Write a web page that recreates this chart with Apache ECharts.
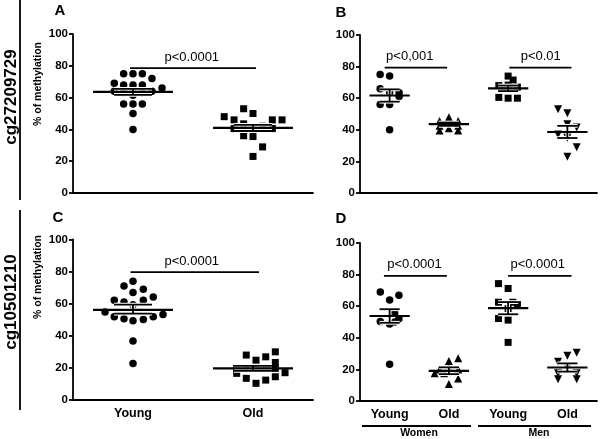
<!DOCTYPE html>
<html><head><meta charset="utf-8">
<script src="https://cdn.jsdelivr.net/npm/echarts@6/dist/echarts.min.js"></script>
<style>html,body{margin:0;padding:0;background:#fff}#c{width:600px;height:439px}</style>
</head><body><div id="c"></div>
<script>
// ---------- data (offset from category centre, % methylation) ----------
const groupsAC = ['Young', 'Old'];
const groupsBD = ['Young', 'Old', 'Young', 'Old'];
const yTicks = [0, 20, 40, 60, 80, 100];

// Panel A (cg27209729, all)
const aYoungOff = [-0.078, 0, 0.078, 0.158, -0.156, -0.078, 0, 0.078, 0.242, -0.156, 0.158, -0.078, 0, 0.078, 0, -0.078, 0, 0.078, 0, 0];
const aYoungVal = [75, 75, 75, 72, 69, 68, 68, 68, 66, 64, 64, 63, 63, 63, 61.5, 56, 56, 56, 50, 40];
const aOldOff = [-0.078, 0, -0.24, -0.158, 0.161, 0.242, -0.078, -0.158, -0.078, 0, 0.08, 0.161, 0.08, -0.078, 0, 0.08, 0];
const aOldVal = [53, 50, 48, 46, 46, 46, 43.5, 40.5, 40.5, 41, 40.5, 40.5, 42, 36, 35.5, 29, 23];
const aMean = [63.6, 41.0];
const aSemLo = [61.7, 39.0];
const aSemHi = [65.5, 42.8];

// Panel B (cg27209729, by sex)
const bWomenYoungOff = [-0.16, 0, -0.16, 0, 0.16, 0.16, -0.16, 0, 0];
const bWomenYoungVal = [75, 74, 66, 64, 63.5, 61, 56, 56, 40];
const bWomenOldOff = [0, -0.157, 0.157, 0, -0.157, 0.157, 0, -0.157, 0.157];
const bWomenOldVal = [48, 45.5, 45.5, 44.5, 42.5, 42.5, 41, 39.5, 39.5];
const bMenYoungOff = [0, 0.084, -0.157, 0, 0.157, -0.08, -0.157, 0, 0.157];
const bMenYoungVal = [74, 71.5, 68, 68.3, 67, 66, 60.5, 60, 60];
const bMenOldOff = [-0.157, 0, 0, 0.157, -0.157, 0, 0.157, 0];
const bMenOldVal = [53, 50.5, 43.5, 41.5, 37, 35, 29, 23];
const bMean = [61.7, 43.6, 66.2, 38.6];
const bSemLo = [57.8, 42.5, 64.5, 34.8];
const bSemHi = [65.6, 44.6, 68.0, 42.5];

// Panel C (cg10501210, all)
const cYoungOff = [0, -0.075, 0.086, 0, 0.169, -0.156, -0.075, 0.086, 0, -0.233, -0.156, -0.075, 0, 0.086, 0.169, 0.25, 0, 0];
const cYoungVal = [74, 71, 69, 67, 64.2, 62.1, 61.1, 62.1, 59.4, 54.8, 51.8, 50.7, 49.3, 50.1, 51.8, 53.2, 36.8, 22.8];
const cOldOff = [-0.056, 0.025, 0.106, 0.186, 0.186, -0.136, -0.056, 0.025, 0.106, 0.186, -0.136, 0.267, -0.056, 0.106, 0.186, 0.025];
const cOldVal = [28, 24.8, 26.9, 30, 23.4, 19.7, 19.7, 19.7, 19.7, 19.7, 16.6, 17, 13.5, 12.4, 14.5, 10.4];
const cMean = [56.2, 19.7];
const cSemLo = [53.8, 18.2];
const cSemHi = [59.4, 21.2];

// Panel D (cg10501210, by sex)
const dWomenYoungOff = [-0.157, 0.157, 0, 0.084, -0.157, 0.157, 0, 0.084, 0];
const dWomenYoungVal = [69, 67, 64, 55.5, 50.3, 52, 48.8, 50, 23.2];
const dWomenOldOff = [0.157, 0, -0.157, 0, 0.157, -0.24, -0.08, 0.157, 0];
const dWomenOldVal = [27, 25.3, 20, 20.5, 20, 17.5, 17.5, 14.3, 10.7];
const dMenYoungOff = [-0.163, 0, -0.163, 0.08, 0.157, 0, -0.163, 0, 0];
const dMenYoungVal = [74.3, 71.2, 62.5, 62.5, 61, 58.5, 52.2, 51.2, 37.1];
const dMenOldOff = [0.157, 0, -0.157, 0, -0.157, 0.157, -0.157, 0.157];
const dMenOldVal = [30.5, 28.6, 24.8, 21.5, 17.5, 17.5, 13.7, 13.7];
const dMean = [53.8, 19.1, 58.8, 21.2];
const dSemLo = [49.5, 17.0, 54.9, 18.6];
const dSemHi = [58.1, 21.3, 62.6, 23.8];

// significance brackets: [from, to, height, text position]
const aBracket = [[0.975, 2.025, 78.5, 1.49]];
const bBracket = [[0.916, 1.97, 79.3, 1.34], [3.02, 4.07, 79.3, 3.55]];
const cBracket = [[0.98, 2.05, 79.7, 1.49]];
const dBracket = [[0.904, 1.966, 79.2, 1.42], [3.0, 4.07, 79.2, 3.5]];
const aPText = ['p<0.0001'];
const bPText = ['p<0,001', 'p<0.01'];
const cPText = ['p<0.0001'];
const dPText = ['p<0.0001', 'p<0.0001'];

const rowLabels = ['cg27209729', 'cg10501210'];
const yTitle = '% of methylation';
const panelLetters = ['A', 'B', 'C', 'D'];
const sexLabels = ['Women', 'Men'];

// ---------- chart ----------
const FF = '"Liberation Sans", Arial, sans-serif';
const chart = echarts.init(document.getElementById('c'));

const grids = [
  {left: 73, top: 34, width: 240, height: 159},
  {left: 360, top: 35, width: 237, height: 158},
  {left: 73, top: 239.5, width: 240, height: 160.5},
  {left: 360, top: 243, width: 237, height: 158}
];

const xAxes = [];
const cats = [groupsAC, groupsBD, groupsAC, groupsBD];
for (let i = 0; i < 4; i++) {
  xAxes.push({
    type: 'category', gridIndex: i, data: cats[i], boundaryGap: true,
    axisLine: {lineStyle: {color: '#000', width: 1.8}},
    axisTick: {alignWithLabel: true, length: 5, lineStyle: {color: '#000', width: 1.8}},
    axisLabel: {show: i >= 2, color: '#000', fontWeight: 'bold', fontSize: 12.5, fontFamily: FF, margin: 7},
    splitLine: {show: false}
  });
}
for (let i = 0; i < 4; i++) {
  xAxes.push({type: 'value', gridIndex: i, min: 0.5, max: (i % 2 === 0) ? 2.5 : 4.5, show: false});
}
const yAxes = [];
for (let i = 0; i < 4; i++) {
  yAxes.push({
    type: 'value', gridIndex: i, min: yTicks[0], max: yTicks[yTicks.length - 1], interval: 20,
    axisLine: {show: true, lineStyle: {color: '#000', width: 1.8}},
    axisTick: {show: true, length: 4, lineStyle: {color: '#000', width: 1.8}},
    axisLabel: {color: '#000', fontWeight: 'bold', fontSize: 11.5, fontFamily: FF, margin: 5},
    splitLine: {show: false}
  });
}

function pts(offs, vals, centre) { return offs.map((o, k) => [centre + o, vals[k]]); }

const series = [];
function scatter(panel, data, symbol, size, rotate) {
  series.push({
    type: 'scatter', xAxisIndex: 4 + panel, yAxisIndex: panel, data: data,
    symbol: symbol, symbolSize: size, symbolRotate: rotate || 0,
    itemStyle: {color: '#000', opacity: 1}, silent: true, z: 2
  });
}
scatter(0, pts(aYoungOff, aYoungVal, 1), 'circle', 7.5);
scatter(0, pts(aOldOff, aOldVal, 2), 'rect', 7);
scatter(1, pts(bWomenYoungOff, bWomenYoungVal, 1), 'circle', 7.5);
scatter(1, pts(bWomenOldOff, bWomenOldVal, 2), 'triangle', 8);
scatter(1, pts(bMenYoungOff, bMenYoungVal, 3), 'rect', 7);
scatter(1, pts(bMenOldOff, bMenOldVal, 4), 'triangle', 8, 180);
scatter(2, pts(cYoungOff, cYoungVal, 1), 'circle', 7.5);
scatter(2, pts(cOldOff, cOldVal, 2), 'rect', 7);
scatter(3, pts(dWomenYoungOff, dWomenYoungVal, 1), 'circle', 7.5);
scatter(3, pts(dWomenOldOff, dWomenOldVal, 2), 'triangle', 8);
scatter(3, pts(dMenYoungOff, dMenYoungVal, 3), 'rect', 7);
scatter(3, pts(dMenOldOff, dMenOldVal, 4), 'triangle', 8, 180);

function meanSeries(panel, mean, lo, hi, hw, sw) {
  const data = mean.map((m, k) => [k + 1, m, lo[k], hi[k], hw, sw]);
  series.push({
    type: 'custom', xAxisIndex: 4 + panel, yAxisIndex: panel, data: data, silent: true, z: 3,
    encode: {x: 0, y: [1, 2, 3]},
    renderItem: function (params, api) {
      const c = api.value(0), m = api.value(1), l = api.value(2), h = api.value(3);
      const hwv = api.value(4), swv = api.value(5);
      const seg = (x1, y1, x2, y2, col, w) => {
        const a = api.coord([x1, y1]), b = api.coord([x2, y2]);
        return {type: 'line', shape: {x1: a[0], y1: a[1], x2: b[0], y2: b[1]}, style: {stroke: col, lineWidth: w}};
      };
      const ch = [];
      [['#fff', 3.8], ['#000', 1.8]].forEach(([col, w]) => {
        ch.push(seg(c - swv, l, c + swv, l, col, w));
        ch.push(seg(c - swv, h, c + swv, h, col, w));
        ch.push(seg(c, l, c, h, col, w));
      });
      ch.push(seg(c - hwv, m, c + hwv, m, '#000', 2.2));
      return {type: 'group', children: ch};
    }
  });
}
meanSeries(0, aMean, aSemLo, aSemHi, 0.333, 0.158);
meanSeries(1, bMean, bSemLo, bSemHi, 0.34, 0.17);
meanSeries(2, cMean, cSemLo, cSemHi, 0.333, 0.158);
meanSeries(3, dMean, dSemLo, dSemHi, 0.34, 0.17);

function bracketSeries(panel, brackets, texts) {
  series.push({
    type: 'custom', xAxisIndex: 4 + panel, yAxisIndex: panel, data: brackets, silent: true, z: 4,
    encode: {x: [0, 1], y: 2},
    renderItem: function (params, api) {
      const x1 = api.value(0), x2 = api.value(1), y = api.value(2), tx = api.value(3);
      const a = api.coord([x1, y]), b = api.coord([x2, y]), t = api.coord([tx, y]);
      return {type: 'group', children: [
        {type: 'line', shape: {x1: a[0], y1: a[1], x2: b[0], y2: b[1]}, style: {stroke: '#000', lineWidth: 1.8}},
        {type: 'text', x: t[0], y: t[1] - 11, style: {text: texts[params.dataIndex], fill: '#000',
          font: '13px ' + FF, align: 'center', verticalAlign: 'middle', textAlign: 'center', textVerticalAlign: 'middle'}}
      ]};
    }
  });
}
bracketSeries(0, aBracket, aPText);
bracketSeries(1, bBracket, bPText);
bracketSeries(2, cBracket, cPText);
bracketSeries(3, dBracket, dPText);

function txt(s, x, y, font, rot) {
  return {type: 'text', x: x, y: y, rotation: rot || 0, silent: true,
    style: {text: s, font: font, fill: '#000', align: 'center', verticalAlign: 'middle', textAlign: 'center', textVerticalAlign: 'middle'}};
}
function ln(x1, y1, x2, y2, w) {
  return {type: 'line', silent: true, shape: {x1: x1, y1: y1, x2: x2, y2: y2}, style: {stroke: '#000', lineWidth: w}};
}
const graphic = [
  ln(20, 0, 20, 200, 1.8), ln(20, 210, 20, 410, 1.8),
  txt(rowLabels[0], 11, 97, 'bold 17px ' + FF, Math.PI / 2),
  txt(rowLabels[1], 11, 302, 'bold 17px ' + FF, Math.PI / 2),
  txt(yTitle, 38, 84, 'bold 10.5px ' + FF, Math.PI / 2),
  txt(yTitle, 38, 277, 'bold 10.5px ' + FF, Math.PI / 2),
  txt(panelLetters[0], 60, 11, 'bold 15px ' + FF),
  txt(panelLetters[1], 341, 12.5, 'bold 15px ' + FF),
  txt(panelLetters[2], 58, 217.5, 'bold 15px ' + FF),
  txt(panelLetters[3], 341, 219, 'bold 15px ' + FF),
  ln(362, 426, 471, 426, 1.8), ln(478, 426, 591, 426, 1.8),
  txt(sexLabels[0], 419, 433.5, 'bold 10.5px ' + FF),
  txt(sexLabels[1], 539, 433.5, 'bold 10.5px ' + FF)
];

chart.setOption({
  animation: false,
  backgroundColor: '#fff',
  grid: grids,
  xAxis: xAxes,
  yAxis: yAxes,
  series: series,
  graphic: graphic
});
</script>
</body></html>
